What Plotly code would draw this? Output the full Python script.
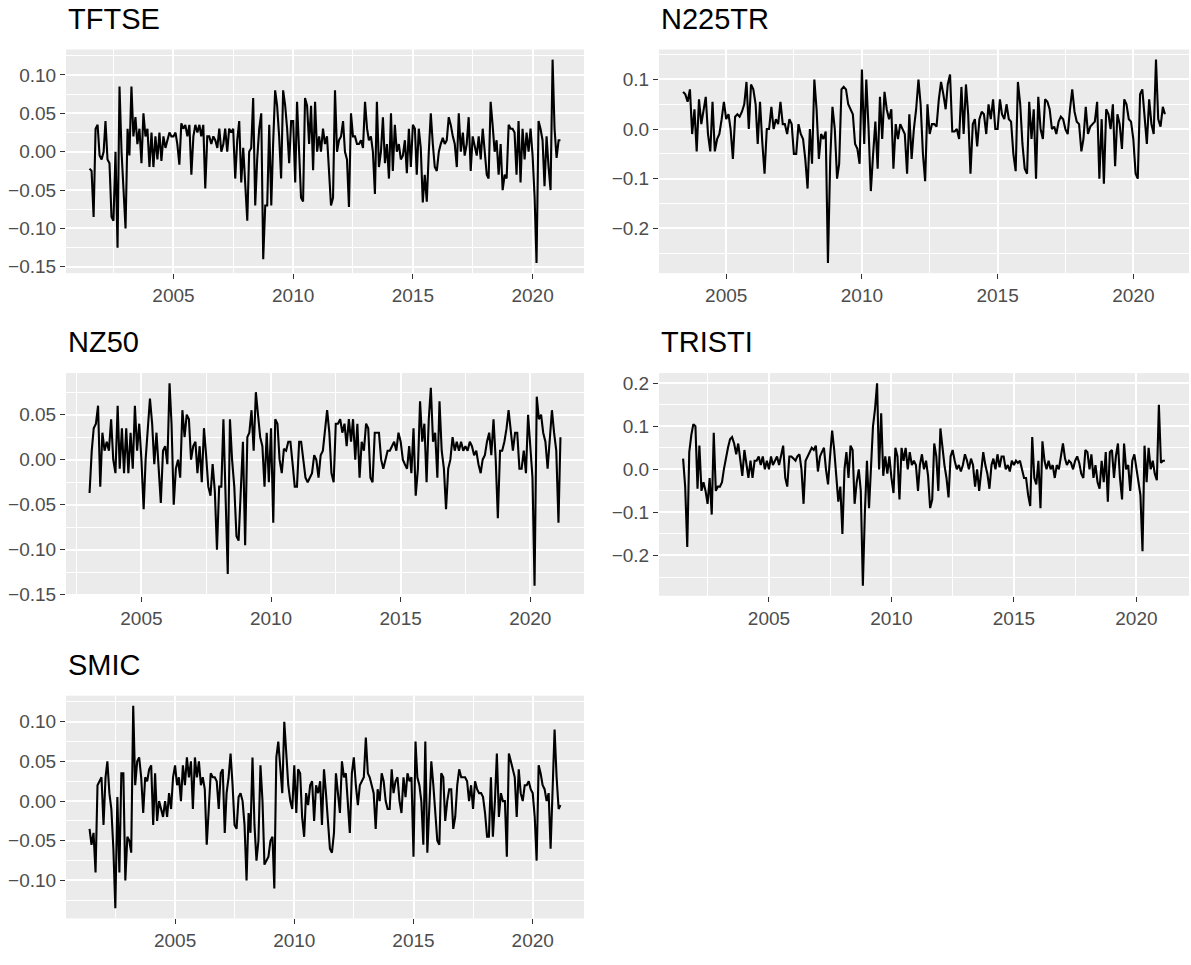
import pandas as pd
import plotly.graph_objects as go

# ---------------- data (monthly returns) ----------------
series_names = ["TFTSE", "N225TR", "NZ50", "TRISTI", "SMIC"]
start_months = ["2001-07", "2003-06", "2003-01", "2001-07", "2001-06"]

tftse = [
    -0.022, -0.025, -0.085, 0.03, 0.035, -0.005,
    -0.01, 0.0, 0.04, -0.01, -0.015, -0.085, -0.09, 0.0, -0.125, 0.085, 0.0, -0.05,
    -0.1, 0.03, -0.005, 0.085, 0.02, 0.045, 0.01, 0.03, -0.015, 0.05, 0.02, 0.03,
    -0.02, 0.025, -0.02, 0.02, -0.01, 0.025, -0.012, 0.02, 0.005, 0.015, 0.025, 0.02,
    0.02, 0.025, 0.01, -0.017, 0.037, 0.03, 0.035, 0.02, 0.035, -0.03, 0.02, 0.035,
    0.025, 0.035, 0.02, 0.035, -0.048, 0.02, 0.02, 0.01, 0.02, 0.015, 0.005, 0.03,
    0.0, 0.01, 0.03, 0.0, 0.03, 0.025, 0.03, -0.035, 0.015, 0.04, -0.04, 0.005,
    -0.04, -0.09, 0.0, 0.005, 0.07, -0.07, -0.01, 0.03, 0.05, -0.14, -0.07, -0.07,
    0.035, -0.07, 0.01, 0.08, 0.06, 0.02, -0.035, 0.08, 0.06, 0.03, -0.015, 0.04,
    0.04, -0.04, 0.065, 0.0, -0.06, -0.065, 0.07, 0.06, 0.01, 0.06, -0.024, 0.065,
    0.0, 0.02, 0.0, 0.03, 0.01, 0.02, -0.02, -0.07, -0.06, 0.08, 0.0, 0.015,
    0.02, 0.04, 0.0, -0.01, -0.072, 0.05, 0.02, 0.02, 0.01, 0.01, 0.015, 0.005,
    0.065, 0.03, 0.015, 0.02, 0.0, -0.055, 0.065, -0.02, 0.0, 0.045, -0.015, 0.01,
    -0.035, 0.05, -0.025, 0.035, 0.0, 0.01, -0.01, -0.005, 0.015, -0.028, 0.03, -0.02,
    0.035, 0.03, -0.03, 0.03, 0.005, -0.066, -0.03, -0.065, 0.0, 0.05, 0.01, -0.02,
    -0.025, 0.0, 0.01, 0.018, 0.01, 0.015, 0.045, 0.035, 0.02, 0.01, -0.02, 0.05,
    0.0, 0.025, -0.005, 0.01, 0.045, -0.025, 0.02, 0.005, -0.005, 0.02, -0.01, 0.03,
    0.0, -0.03, -0.035, 0.065, 0.035, 0.0, 0.015, -0.03, 0.01, -0.05, -0.03, -0.035,
    0.035, 0.03, 0.03, 0.025, -0.03, 0.04, -0.04, 0.03, -0.01, 0.025, 0.0, 0.03,
    -0.005, -0.06, -0.145, 0.04, 0.03, 0.015, -0.045, 0.02, -0.02, -0.05, 0.12, 0.03,
    -0.008, 0.015, 0.015,
]

n225tr = [
    0.075, 0.07, 0.055, 0.08, -0.01, 0.04, -0.045,
    0.06, 0.01, 0.04, 0.065, -0.01, -0.045, 0.055, -0.045, -0.02, -0.01, 0.02, 0.055,
    0.02, 0.03, 0.0, -0.06, 0.025, 0.03, 0.025, 0.035, 0.05, 0.095, 0.0, 0.09,
    0.08, 0.05, -0.03, 0.055, -0.025, -0.09, 0.0, 0.0, 0.045, 0.0, 0.02, 0.01,
    0.055, 0.01, 0.01, -0.01, 0.02, 0.01, -0.05, -0.05, 0.01, -0.01, -0.02, -0.06,
    -0.12, 0.0, -0.07, 0.1, 0.04, -0.06, -0.01, -0.02, -0.005, -0.27, -0.06, 0.045,
    0.0, -0.1, -0.07, 0.08, 0.085, 0.08, 0.05, 0.04, 0.03, -0.03, -0.04, -0.07,
    0.12, -0.03, 0.1, 0.0, -0.125, -0.05, 0.015, -0.08, 0.065, -0.02, 0.075, 0.04,
    0.02, 0.04, -0.08, 0.01, -0.02, 0.01, 0.0, -0.01, -0.09, 0.03, -0.06, 0.0,
    0.04, 0.1, 0.05, -0.05, -0.105, 0.05, -0.01, 0.01, 0.01, 0.005, 0.06, 0.095,
    0.07, 0.04, 0.09, 0.11, -0.005, -0.005, 0.0, -0.02, 0.085, -0.01, 0.09, 0.03,
    -0.09, 0.01, 0.02, -0.035, 0.02, 0.035, 0.03, -0.01, 0.05, 0.02, 0.06, 0.0,
    0.0, 0.06, 0.03, 0.02, 0.05, 0.02, 0.015, -0.05, -0.085, 0.095, 0.05, -0.03,
    -0.08, -0.09, 0.055, -0.02, 0.04, -0.1, 0.065, 0.0, -0.02, 0.06, 0.055, 0.04,
    0.0, 0.005, -0.01, 0.015, 0.025, 0.02, 0.0, -0.01, 0.04, 0.08, 0.035, 0.015,
    0.01, -0.045, -0.02, 0.045, -0.01, 0.005, 0.01, 0.015, 0.055, -0.1, 0.02, -0.11,
    0.04, 0.03, 0.0, 0.05, -0.075, 0.03, 0.01, -0.04, 0.06, 0.05, 0.02, 0.015,
    -0.02, -0.09, -0.1, 0.07, 0.08, 0.02, -0.03, 0.06, 0.01, -0.01, 0.14, 0.02,
    0.005, 0.045, 0.03,
]

nz50 = [
    -0.037, 0.01, 0.035, 0.04, 0.06, -0.03, 0.03, 0.01, 0.02, 0.01, 0.045, 0.0,
    -0.015, 0.06, -0.01, 0.035, -0.015, 0.035, -0.015, 0.03, -0.01, 0.06, 0.01, 0.04,
    0.0, -0.055, 0.0, 0.03, 0.068, 0.04, -0.005, 0.03, -0.01, -0.048, 0.01, 0.015,
    -0.005, 0.085, 0.04, -0.05, -0.01, 0.0, -0.02, 0.055, 0.025, 0.05, 0.045, 0.0,
    0.015, 0.02, -0.015, 0.015, -0.025, 0.035, 0.005, -0.03, -0.04, -0.005, -0.035, -0.1,
    -0.03, -0.03, 0.045, -0.04, -0.127, 0.045, 0.0, -0.03, -0.085, -0.09, -0.03, 0.02,
    -0.095, 0.025, 0.03, 0.055, 0.01, 0.075, 0.05, 0.025, 0.015, -0.03, 0.03, -0.025,
    0.035, -0.07, 0.045, 0.04, 0.0, -0.015, 0.012, 0.01, 0.02, 0.02, -0.005, -0.03,
    -0.03, 0.02, 0.02, 0.0, -0.02, -0.025, -0.02, -0.015, 0.005, 0.0, -0.02, 0.005,
    0.01, 0.03, 0.055, 0.03, -0.015, -0.025, 0.04, 0.04, 0.045, 0.03, 0.04, 0.015,
    0.045, 0.02, 0.045, 0.0, 0.04, -0.02, 0.02, 0.01, 0.04, 0.035, -0.02, -0.025,
    0.03, 0.03, 0.03, 0.0, -0.01, 0.0, 0.01, 0.01, 0.015, 0.02, 0.01, 0.03,
    0.02, 0.0, -0.005, -0.01, 0.015, -0.015, 0.035, -0.04, -0.01, 0.065, 0.02, 0.04,
    -0.025, 0.045, 0.08, 0.02, 0.03, -0.02, 0.065, 0.01, -0.01, -0.055, -0.01, 0.0,
    0.025, 0.01, 0.02, 0.01, 0.02, 0.01, 0.015, 0.01, 0.02, 0.015, 0.005, 0.01,
    -0.005, -0.015, 0.0, 0.005, 0.02, 0.03, 0.005, 0.045, 0.0, -0.065, 0.01, 0.01,
    0.02, 0.035, 0.055, 0.035, 0.01, 0.03, 0.03, -0.01, -0.01, 0.01, -0.015, 0.05,
    0.02, -0.02, -0.14, 0.07, 0.045, 0.05, 0.03, 0.02, -0.01, 0.02, 0.055, 0.03,
    0.01, -0.07, 0.025,
]

tristi = [
    0.025, -0.04, -0.18, 0.04, 0.08, 0.105,
    0.1, -0.045, 0.055, -0.05, -0.03, -0.05, -0.08, -0.02, -0.105, 0.085, -0.05, -0.04,
    -0.04, -0.03, 0.0, 0.03, 0.05, 0.07, 0.075, 0.06, 0.035, 0.06, 0.015, -0.015,
    0.045, 0.01, -0.02, 0.02, -0.02, 0.02, 0.02, 0.03, 0.01, 0.03, 0.0, 0.02,
    0.0, 0.03, 0.01, 0.02, 0.03, 0.01, 0.035, 0.055, -0.02, -0.04, 0.03, 0.03,
    0.025, 0.02, 0.03, 0.035, 0.0, -0.08, 0.02, 0.03, 0.04, 0.05, 0.045, 0.055,
    -0.005, 0.03, 0.04, 0.05, 0.0, -0.035, 0.03, 0.09, 0.045, -0.02, -0.075, -0.04,
    -0.15, 0.0, 0.04, -0.02, 0.055, 0.045, -0.08, -0.03, 0.0, -0.05, -0.27, -0.1,
    0.02, -0.09, 0.0, 0.1, 0.14, 0.2, 0.0, 0.13, -0.015, 0.03, -0.01, 0.03,
    -0.02, -0.055, 0.05, 0.03, -0.07, 0.05, 0.02, 0.05, 0.0, 0.04, 0.01, 0.02,
    0.01, -0.05, 0.01, 0.035, 0.0, 0.02, -0.015, -0.09, -0.07, 0.06, 0.03, -0.05,
    0.095, 0.05, 0.01, -0.02, -0.065, 0.03, 0.045, 0.02, 0.0, 0.01, -0.005, 0.01,
    0.035, 0.02, 0.0, 0.025, 0.01, -0.04, 0.0, -0.05, 0.0, 0.04, 0.01, -0.01,
    -0.045, 0.01, 0.025, 0.0, 0.035, 0.005, 0.03, 0.03, 0.0, 0.01, -0.005, 0.02,
    0.01, 0.02, 0.015, 0.02, 0.0, -0.02, -0.02, -0.06, -0.085, 0.075, -0.02, -0.035,
    0.02, -0.09, 0.065, 0.02, 0.0, 0.02, 0.0, 0.01, -0.02, 0.01, 0.0, 0.03,
    0.06, 0.025, 0.01, 0.02, 0.015, 0.0, 0.02, 0.03, 0.015, -0.01, -0.02, 0.045,
    0.04, 0.0, 0.035, -0.02, 0.01, -0.03, -0.045, 0.02, -0.03, 0.04, -0.075, 0.04,
    0.045, -0.02, 0.03, 0.06, -0.02, -0.07, 0.06, 0.0, 0.01, -0.05, 0.02, 0.035,
    0.0, -0.03, -0.06, -0.19, 0.055, -0.03, 0.05, 0.0, 0.02, -0.01, -0.025, 0.15,
    0.015, 0.02, 0.02,
]

smic = [
    -0.035, -0.055, -0.04, -0.09, 0.02, 0.025, 0.03,
    -0.03, 0.03, 0.05, 0.01, -0.01, -0.06, -0.135, 0.005, -0.09, 0.035, 0.035, -0.1,
    -0.045, -0.05, -0.065, 0.12, 0.02, 0.05, 0.055, 0.03, -0.015, 0.03, 0.025, 0.04,
    0.045, -0.03, 0.035, -0.025, 0.0, -0.01, -0.02, 0.0, -0.02, 0.01, -0.01, 0.03,
    0.045, 0.02, 0.03, 0.0, 0.045, 0.02, 0.055, 0.03, 0.05, -0.01, 0.055, 0.03,
    0.05, 0.02, 0.03, 0.015, -0.055, -0.01, 0.035, 0.03, 0.03, 0.025, -0.01, 0.035,
    0.04, -0.04, 0.01, 0.03, 0.06, 0.02, -0.03, -0.035, 0.005, 0.01, 0.0, -0.03,
    -0.1, -0.015, -0.04, 0.055, -0.03, -0.075, -0.05, 0.045, 0.0, -0.08, -0.075, -0.07,
    -0.05, -0.045, -0.11, 0.055, 0.075, 0.045, 0.01, 0.1, 0.05, 0.02, 0.0, -0.01,
    0.045, -0.015, 0.04, 0.035, -0.02, -0.045, 0.01, -0.005, 0.02, 0.025, -0.025, 0.02,
    0.01, 0.025, -0.03, 0.04, 0.01, -0.02, -0.06, -0.065, -0.04, 0.035, 0.01, -0.015,
    0.05, 0.03, 0.035, -0.01, -0.04, 0.035, 0.055, 0.02, -0.005, 0.02, 0.025, 0.03,
    0.08, 0.035, 0.03, 0.02, 0.01, -0.035, 0.015, 0.0, 0.035, 0.025, 0.0, -0.01,
    -0.01, 0.04, 0.01, 0.025, 0.03, 0.0, -0.015, 0.03, 0.005, 0.035, 0.025, 0.03,
    -0.07, 0.075, 0.03, 0.02, 0.0, -0.055, 0.075, -0.065, 0.0, 0.05, 0.02, -0.015,
    -0.05, -0.055, 0.035, 0.03, -0.025, 0.0, 0.015, 0.015, -0.035, -0.02, 0.02, 0.04,
    0.03, 0.03, 0.03, 0.025, 0.0, 0.02, -0.01, 0.025, 0.015, 0.01, 0.01, 0.005,
    -0.015, -0.045, -0.045, 0.03, -0.045, 0.0, 0.06, -0.02, 0.01, 0.0, 0.0, -0.07,
    0.06, 0.05, 0.04, 0.03, -0.02, 0.04, 0.01, 0.0, 0.02, 0.02, 0.025, 0.015,
    0.01, -0.02, -0.075, 0.045, 0.035, 0.02, 0.015, 0.0, 0.01, -0.06, 0.015, 0.09,
    0.03, -0.01, -0.005,
]

series_values = [tftse, n225tr, nz50, tristi, smic]

# y-axis tick breaks and label formats per panel
y_tick_steps = [0.05, 0.1, 0.05, 0.1, 0.05]
y_tick_formats = [".2f", ".1f", ".2f", ".1f", ".2f"]
x_tick_years = ["2005", "2010", "2015", "2020"]

# ---------------- layout geometry (pixels) ----------------
W, H = 1191, 965
col_x = [(66, 584), (659, 1189)]
row_y = [(50, 276), (377, 602), (703, 928)]
panel_pos = [(0, 0), (0, 1), (1, 0), (1, 1), (2, 0)]  # (row, col)

FONT = "Liberation Sans, Arial, Helvetica, sans-serif"
BG = "#EBEBEB"

fig = go.Figure()
layout = dict(
    width=W, height=H,
    margin=dict(l=0, r=0, t=0, b=0),
    paper_bgcolor="white",
    plot_bgcolor=BG,
    showlegend=False,
    font=dict(family=FONT, color="#4D4D4D", size=19),
    annotations=[],
)

for i, (name, start, vals) in enumerate(zip(series_names, start_months, series_values)):
    dates = pd.date_range(start=start + "-01", periods=len(vals), freq="MS")
    idx = i + 1
    xa = "x" if idx == 1 else f"x{idx}"
    ya = "y" if idx == 1 else f"y{idx}"
    fig.add_trace(go.Scatter(
        x=dates, y=vals, mode="lines",
        line=dict(color="black", width=2.1),
        xaxis=xa, yaxis=ya, hoverinfo="skip",
    ))

    r, c = panel_pos[i]
    x0, x1 = col_x[c]
    y0, y1 = row_y[r]

    # ggplot-like 5% expansion
    lo, hi = min(vals), max(vals)
    pad = 0.05 * (hi - lo)
    yr = [lo - pad, hi + pad]
    t0, t1 = dates[0], dates[-1]
    dpad = (t1 - t0) * 0.05
    xr = [t0 - dpad, t1 + dpad]

    step = y_tick_steps[i]
    xkey = "xaxis" if idx == 1 else f"xaxis{idx}"
    ykey = "yaxis" if idx == 1 else f"yaxis{idx}"
    layout[xkey] = dict(
        domain=[x0 / W, x1 / W],
        anchor=ya,
        type="date",
        range=xr,
        tickmode="array",
        tickvals=[pd.Timestamp(y + "-01-01") for y in x_tick_years],
        ticktext=x_tick_years,
        showgrid=True, gridcolor="white", gridwidth=2,
        minor=dict(tickmode="linear", tick0="2005-01-01", dtick="M30",
                   showgrid=True, gridcolor="white", gridwidth=1),
        ticks="outside", ticklen=5, tickwidth=1.4, tickcolor="#333333",
        tickfont=dict(size=19, color="#4D4D4D", family=FONT),
        zeroline=False, showline=False, fixedrange=True,
    )
    layout[ykey] = dict(
        domain=[1 - y1 / H, 1 - y0 / H],
        anchor=xa,
        range=yr,
        tickmode="linear", tick0=0, dtick=step, tickformat=y_tick_formats[i],
        showgrid=True, gridcolor="white", gridwidth=2,
        minor=dict(tickmode="linear", tick0=0, dtick=step / 2,
                   showgrid=True, gridcolor="white", gridwidth=1),
        ticks="outside", ticklen=5, tickwidth=1.4, tickcolor="#333333",
        tickfont=dict(size=19, color="#4D4D4D", family=FONT),
        zeroline=False, showline=False, fixedrange=True,
    )
    layout["annotations"].append(dict(
        text=name, xref="paper", yref="paper",
        x=x0 / W, y=1 - (y0 - 31) / H,
        xanchor="left", yanchor="middle", showarrow=False,
        font=dict(size=29, color="black", family=FONT),
    ))

fig.update_layout(**layout)
fig.write_html("out.html")
